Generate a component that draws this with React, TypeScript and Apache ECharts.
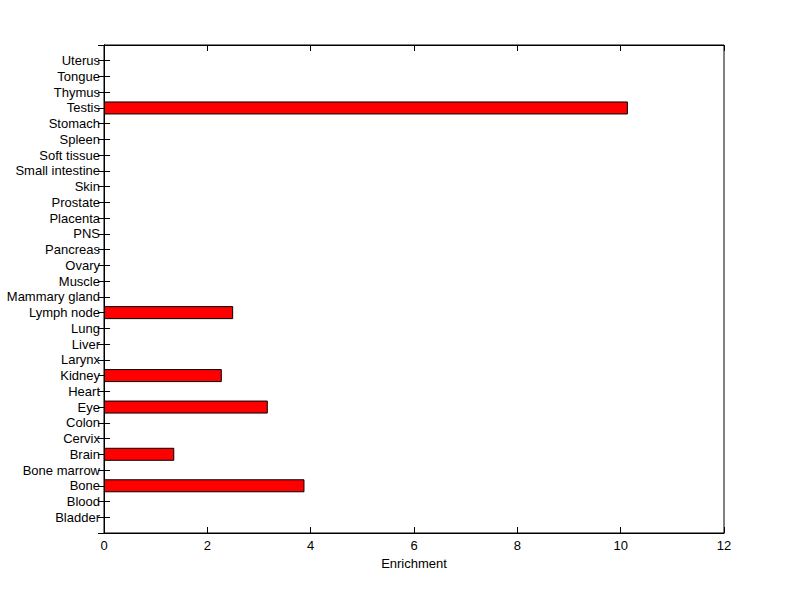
import React, { useEffect, useRef } from "react";
import * as echarts from "echarts";

const tissues = [
  "Bladder", "Blood", "Bone", "Bone marrow", "Brain", "Cervix", "Colon", "Eye",
  "Heart", "Kidney", "Larynx", "Liver", "Lung", "Lymph node", "Mammary gland",
  "Muscle", "Ovary", "Pancreas", "PNS", "Placenta", "Prostate", "Skin",
  "Small intestine", "Soft tissue", "Spleen", "Stomach", "Testis", "Thymus",
  "Tongue", "Uterus",
];
const enrichment = [
  0, 0, 3.88, 0, 1.36, 0, 0, 3.17,
  0, 2.28, 0, 0, 0, 2.5, 0,
  0, 0, 0, 0, 0, 0, 0,
  0, 0, 0, 0, 10.14, 0,
  0, 0,
];
const xTicks = { min: 0, max: 12, interval: 2 };
const xTitle = "Enrichment";

export default function App() {
  const ref = useRef<HTMLDivElement>(null);
  useEffect(() => {
    if (!ref.current) return;
    const chart = echarts.init(ref.current, null, { renderer: "svg" });
    const cats = ["", ...tissues, ""];
    const vals = ["-", ...enrichment.map((v) => (v === 0 ? "-" : v)), "-"];
    const font = "Liberation Sans, Arial, Helvetica, sans-serif";
    const fs = 13;
    chart.setOption({
      animation: false,
      backgroundColor: "#fff",
      grid: {
        left: 104, right: 76, top: 45, bottom: 66,
        show: true, borderColor: "#000", borderWidth: 1, backgroundColor: "transparent",
      },
      xAxis: [
        {
          type: "value", ...xTicks, position: "bottom",
          name: xTitle, nameLocation: "middle", nameGap: 24,
          nameTextStyle: { color: "#000", fontSize: fs, fontFamily: font },
          axisLine: { show: true, lineStyle: { color: "#000" } },
          axisTick: { show: true, inside: true, length: 6, lineStyle: { color: "#000" } },
          axisLabel: { color: "#000", fontSize: fs, fontFamily: font, margin: 6 },
          splitLine: { show: false },
        },
        {
          type: "value", ...xTicks, position: "top",
          axisLine: { show: true, lineStyle: { color: "#000" } },
          axisTick: { show: true, inside: true, length: 6, lineStyle: { color: "#000" } },
          axisLabel: { show: false },
          splitLine: { show: false },
        },
      ],
      yAxis: [
        {
          type: "category", data: cats, boundaryGap: false, position: "left",
          axisLine: { show: true, lineStyle: { color: "#000" } },
          axisTick: { show: true, inside: true, length: 6, interval: 0, lineStyle: { color: "#000" } },
          axisLabel: { color: "#000", fontSize: fs, fontFamily: font, interval: 0, margin: 4 },
          splitLine: { show: false },
        },
        {
          type: "category", data: cats, boundaryGap: false, position: "right",
          axisLine: { show: true, lineStyle: { color: "#000" } },
          axisTick: { show: true, inside: true, length: 6, interval: 0, lineStyle: { color: "#000" } },
          axisLabel: { show: false },
          splitLine: { show: false },
        },
      ],
      series: [
        {
          type: "bar",
          xAxisIndex: 0,
          yAxisIndex: 0,
          data: vals,
          barWidth: 13,
          itemStyle: { color: "#ff0000", borderColor: "#000", borderWidth: 1 },
        },
      ],
    });
    return () => chart.dispose();
  }, []);
  return <div ref={ref} style={{ width: 800, height: 599, position: "absolute", left: 0, top: 0 }} />;
}
